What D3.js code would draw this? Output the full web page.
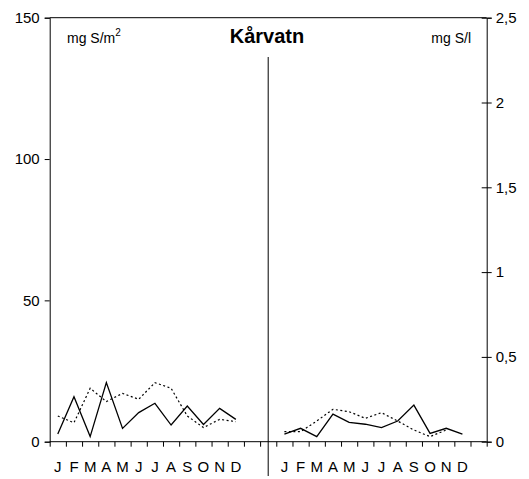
<!DOCTYPE html>
<html>
<head>
<meta charset="utf-8">
<script src="https://cdn.jsdelivr.net/npm/d3@7"></script>
<style>
  html, body { margin: 0; padding: 0; background: #fff; }
  svg { display: block; font-family: Arial, "Liberation Sans", sans-serif; }
</style>
</head>
<body>
<svg id="chart" width="529" height="479"></svg>
<script>
// Month labels for each half of the chart
const months = ["J", "F", "M", "A", "M", "J", "J", "A", "S", "O", "N", "D"];

// Left half: monthly values in mg S/m2
const depositionSolid  = [2.7, 15.9, 1.8, 20.9, 4.7, 10.3, 13.6, 5.9, 12.6, 6.1, 11.8, 7.9];
const depositionDotted = [9.1, 6.7, 18.9, 14.2, 17.1, 15.0, 20.9, 18.9, 9.1, 5.0, 7.9, 7.1];

// Right half: monthly values in mg S/l
const concentrationSolid  = [0.045, 0.079, 0.030, 0.163, 0.114, 0.103, 0.083, 0.122, 0.216, 0.049, 0.079, 0.045];
const concentrationDotted = [0.059, 0.059, 0.122, 0.191, 0.177, 0.138, 0.171, 0.122, 0.069, 0.030, 0.069, null];

// Axis tick values and labels
const leftTicks = [0, 50, 100, 150];
const rightTicks = [0, 0.5, 1, 1.5, 2, 2.5];
const rightTickLabels = ["0", "0,5", "1", "1,5", "2", "2,5"];

const title = "Kårvatn";

// Category slots: 12 months, 2 gap slots (divider in the middle), 12 months, 1 trailing slot
const leftStart = 0, rightStart = 14, slotCount = 27;

const svg = d3.select("#chart");
const x0 = 49.7, x1 = 486.7, yTop = 17.7, yBot = 441.7;

const xLin = d3.scaleLinear().domain([0, slotCount]).range([x0, x1]);
const xCenter = i => xLin(i + 0.5);
const yL = d3.scaleLinear().domain([0, 150]).range([yBot, yTop]);
const yR = d3.scaleLinear().domain([0, 2.5]).range([yBot, yTop]);

const fontSize = 15;

// Top frame line
svg.append("line")
  .attr("x1", x0).attr("x2", x1).attr("y1", yTop).attr("y2", yTop)
  .attr("stroke", "#000").attr("stroke-width", 1);

// Left axis
const gL = svg.append("g").attr("transform", `translate(${x0},0)`)
  .call(d3.axisLeft(yL).tickValues(leftTicks).tickSize(5).tickPadding(5).tickFormat(d3.format("d")));
// Right axis with crossing ticks
const gR = svg.append("g").attr("transform", `translate(${x1},0)`)
  .call(d3.axisRight(yR).tickValues(rightTicks).tickSize(5).tickPadding(4)
    .tickFormat((d, i) => rightTickLabels[i]));
gR.selectAll(".tick line").attr("x1", -5);

// Bottom axis: ticks on slot boundaries
const gB = svg.append("g").attr("transform", `translate(0,${yBot})`)
  .call(d3.axisBottom(xLin).tickValues(d3.range(0, slotCount + 1)).tickSize(5).tickFormat(""));

[gL, gR, gB].forEach(g => {
  g.select(".domain").attr("stroke", "#000").attr("stroke-width", 1);
  g.selectAll(".tick line").attr("stroke", "#000").attr("stroke-width", 1);
  g.selectAll(".tick text").attr("fill", "#000").attr("font-size", fontSize)
    .attr("font-family", "Arial, 'Liberation Sans', sans-serif");
});
gB.select(".domain").attr("d", `M${x0},0H${x1}`);

// Month labels under each half
const monthLabels = months.map((m, i) => ({ m, slot: leftStart + i }))
  .concat(months.map((m, i) => ({ m, slot: rightStart + i })));
svg.append("g").selectAll("text").data(monthLabels).join("text")
  .attr("x", d => xCenter(d.slot))
  .attr("y", 472)
  .attr("text-anchor", "middle")
  .attr("font-size", 15)
  .text(d => d.m);

// Divider between the two halves
svg.append("line")
  .attr("x1", xLin(13.5)).attr("x2", xLin(13.5))
  .attr("y1", 57).attr("y2", 476)
  .attr("stroke", "#000").attr("stroke-width", 1);

// Lines
function drawLine(values, start, yScale, dashed) {
  const line = d3.line()
    .defined(d => d != null)
    .x((d, i) => xCenter(start + i))
    .y(d => yScale(d));
  svg.append("path")
    .datum(values)
    .attr("d", line)
    .attr("fill", "none")
    .attr("stroke", "#000")
    .attr("stroke-width", dashed ? 1.2 : 1.3)
    .attr("stroke-dasharray", dashed ? "2,2.5" : null)
    .attr("stroke-linejoin", "miter");
}
drawLine(depositionDotted, leftStart, yL, true);
drawLine(depositionSolid, leftStart, yL, false);
drawLine(concentrationDotted, rightStart, yR, true);
drawLine(concentrationSolid, rightStart, yR, false);

// Title and unit labels
svg.append("text")
  .attr("x", 267).attr("y", 43)
  .attr("text-anchor", "middle")
  .attr("font-size", 20).attr("font-weight", "bold")
  .text(title);

const unitL = svg.append("text").attr("x", 67).attr("y", 43).attr("font-size", 14);
unitL.append("tspan").text("mg S/m");
unitL.append("tspan").attr("font-size", 10).attr("dy", -7).text("2");

svg.append("text")
  .attr("x", 471).attr("y", 43)
  .attr("text-anchor", "end")
  .attr("font-size", 14)
  .text("mg S/l");
</script>
</body>
</html>
